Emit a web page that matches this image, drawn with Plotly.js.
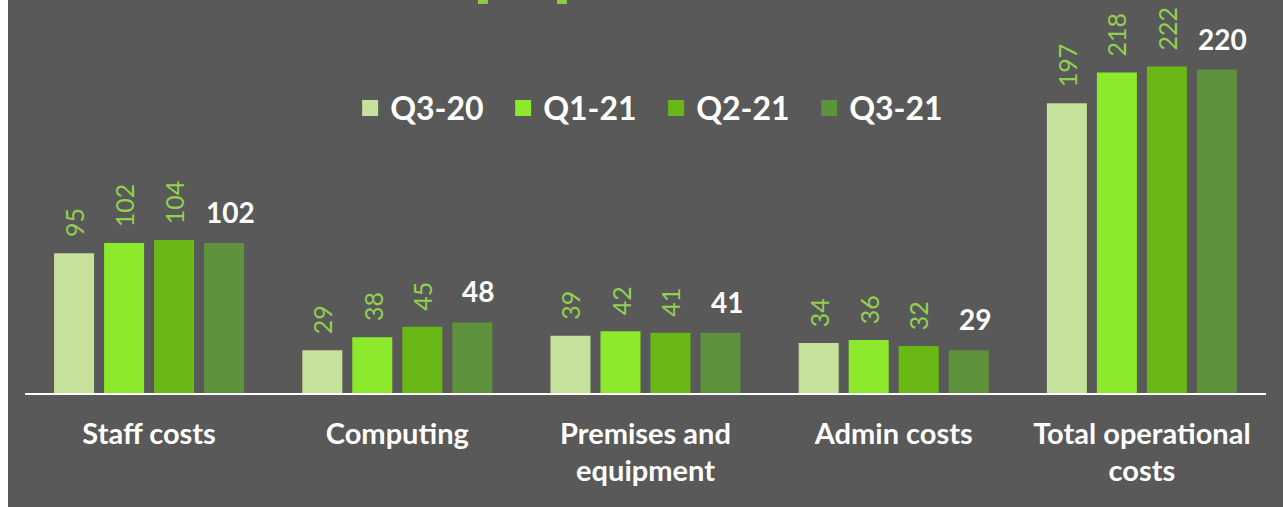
<!DOCTYPE html>
<html>
<head>
<meta charset="utf-8">
<script src="https://cdn.plot.ly/plotly-3.0.1.min.js"></script>
<style>
  html, body { margin: 0; padding: 0; background: #ffffff; }
  #chart { position: absolute; left: 8px; top: 0; width: 1275px; height: 507px; }
</style>
</head>
<body>
<div id="chart"></div>
<script>
// ---- Data ----
const categories = ["Staff costs", "Computing", "Premises and<br>equipment", "Admin costs", "Total operational<br>costs"];
const seriesNames = ["Q3-20", "Q1-21", "Q2-21", "Q3-21"];
const q3_20 = [95, 29, 39, 34, 197];
const q1_21 = [102, 38, 42, 36, 218];
const q2_21 = [104, 45, 41, 32, 222];
const q3_21 = [102, 48, 41, 29, 220];

// ---- Styles ----
const colors = ["#c5e19b", "#8de92b", "#6ab815", "#5e923c"];
const labelGreen = "#92d050";
const bg = "#595959";
const FONT = "Lato, 'Open Sans', sans-serif";

const allSeries = [q3_20, q1_21, q2_21, q3_21];

const traces = [];
allSeries.forEach((vals, s) => {
  traces.push({
    type: "bar",
    name: seriesNames[s],
    x: categories,
    y: vals,
    marker: { color: colors[s], line: { width: 0 } },
    showlegend: false,
    legendgroup: seriesNames[s],
    hoverinfo: "x+y+name"
  });
});
// legend-only entries with larger square symbols
allSeries.forEach((vals, s) => {
  traces.push({
    type: "scatter",
    mode: "markers",
    name: seriesNames[s],
    x: [categories[0]],
    y: [null],
    marker: { symbol: "square", size: 20, color: colors[s] },
    legendgroup: seriesNames[s],
    showlegend: true,
    hoverinfo: "skip"
  });
});

// value labels via annotations tied to axis scales
const slotPx = 50;
const annotations = [];
allSeries.forEach((vals, s) => {
  vals.forEach((v, i) => {
    const last = s === 3;
    annotations.push({
      x: categories[i], y: v, xref: "x", yref: "y",
      text: String(v),
      showarrow: false,
      xanchor: "center", yanchor: "bottom",
      xshift: (s - 1.5) * slotPx + (last ? 6 : 0),
      yshift: last ? 12 : 14,
      textangle: last ? 0 : -90,
      font: last
        ? { family: FONT, size: 28, color: "#ffffff", weight: "bold" }
        : { family: FONT, size: 25, color: labelGreen }
    });
  });
});

const layout = {
  width: 1275, height: 507,
  margin: { l: 17, r: 17, t: 0, b: 114, pad: 0 },
  paper_bgcolor: bg, plot_bgcolor: bg,
  barmode: "group",
  bargap: 0.194,
  bargroupgap: 0.2,
  showlegend: true,
  legend: {
    orientation: "h",
    x: 0.262, xanchor: "left",
    y: 0.725, yanchor: "middle",
    font: { family: FONT, size: 32, color: "#ffffff", weight: "bold" },
    entrywidth: 108, entrywidthmode: "pixels",
    bgcolor: "rgba(0,0,0,0)",
    itemclick: "toggle"
  },
  xaxis: {
    type: "category",
    showline: true, linecolor: "#ffffff", linewidth: 1.5,
    showgrid: false, zeroline: false, ticks: "",
    tickfont: { family: FONT, size: 29, color: "#ffffff", weight: "bold" },
    ticklabelstandoff: 14,
    fixedrange: true
  },
  yaxis: {
    range: [0, 267.3],
    showgrid: false, zeroline: false, showline: false,
    showticklabels: false, ticks: "",
    fixedrange: true
  },
  annotations: annotations,
  shapes: [
    { type: "rect", xref: "paper", yref: "paper", x0: 0.365, x1: 0.373, y0: 0.99, y1: 1.0, fillcolor: "#8ccf45", line: { width: 0 } },
    { type: "rect", xref: "paper", yref: "paper", x0: 0.4287, x1: 0.4367, y0: 0.99, y1: 1.0, fillcolor: "#8ccf45", line: { width: 0 } }
  ],
  font: { family: FONT, color: "#ffffff" }
};

Plotly.newPlot("chart", traces, layout, { displayModeBar: false, responsive: false });
</script>
</body>
</html>
